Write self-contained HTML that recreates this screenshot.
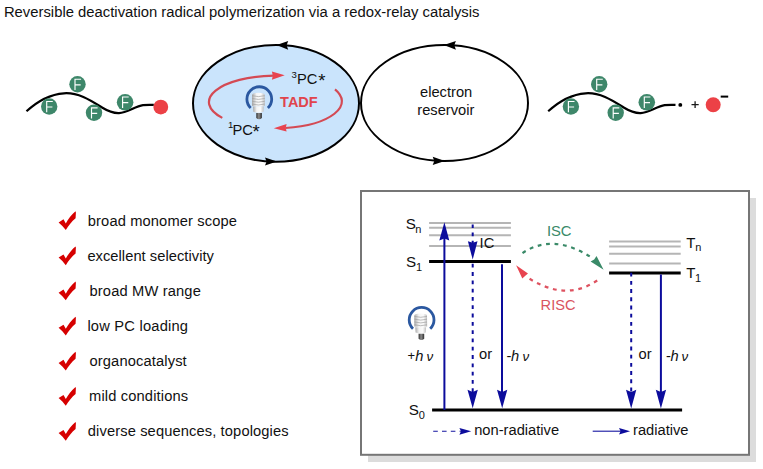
<!DOCTYPE html>
<html><head><meta charset="utf-8">
<style>
html,body{margin:0;padding:0;background:#fff;width:763px;height:469px;overflow:hidden}
svg{display:block}
text{font-family:"Liberation Sans",sans-serif;font-size:14.7px;fill:#111}
</style></head><body>
<svg width="763" height="469" viewBox="0 0 763 469">
<defs>
  <linearGradient id="bg1" x1="0" x2="1" y1="0" y2="0">
    <stop offset="0" stop-color="#a9a9a9"/><stop offset="0.35" stop-color="#f4f4f4"/><stop offset="0.7" stop-color="#fbfbfb"/><stop offset="1" stop-color="#bdbdbd"/>
  </linearGradient>
  <linearGradient id="bg2" x1="0" x2="1" y1="0" y2="0">
    <stop offset="0" stop-color="#2e2e2e"/><stop offset="0.45" stop-color="#8c8c8c"/><stop offset="1" stop-color="#2e2e2e"/>
  </linearGradient>
  <g id="bulb">
    <path d="M-8.6,9.0 A12.4,12.4 0 1 1 8.6,9.0" fill="none" stroke="#2b58a0" stroke-width="2.8"/>
    <path d="M-7.3,-4 Q-7.3,-6.2 -1,-6.3 Q5.4,-6.2 5.4,-4 L5.6,6.8 Q-0.9,8.2 -7.3,6.8 Z" fill="url(#bg1)"/>
    <g stroke="#a0a0a0" stroke-width="0.8" fill="none" opacity="0.85">
      <path d="M-7.2,-3.4 Q-0.9,-1.6 5.4,-3.4"/>
      <path d="M-7.2,-0.6 Q-0.9,1.2 5.4,-0.6"/>
      <path d="M-7.2,2.2 Q-0.9,4 5.4,2.2"/>
      <path d="M-7.2,5 Q-0.9,6.8 5.4,5"/>
    </g>
    <path d="M-6.3,7.4 L4.5,7.4 L4.2,12.6 Q-0.9,14.6 -6,12.6 Z" fill="url(#bg1)"/>
    <path d="M-3,14 L2.6,14 L2.6,19 Q-0.2,21.4 -3,19 Z" fill="url(#bg2)"/>
  </g>
  <path id="chk" d="M58.6,222.4 L63.5,219.3 L65.8,223.4 C68,219.4 71.5,214.5 75.5,211.3 L75.9,212.4 L75.6,218.3 C71.6,221.6 68.6,225.6 65.8,230.1 C63.6,227.2 61.2,224.6 58.6,222.4 Z" fill="#d60000"/>
  <g id="chain">
    <path d="M26.5,111.3 C38,100.6 50,94.3 64,93.3 C78,92.3 90,100 102,107.5 C109,111.8 114,113.3 119,113.1 C127,112.8 135,106.5 143,105.2 C147,104.6 150.5,104.8 153.8,104.9" fill="none" stroke="#000" stroke-width="2.2"/>
    <g fill="#3e876a">
      <circle cx="49.2" cy="106.5" r="8.2"/>
      <circle cx="77.5" cy="84.3" r="8.2"/>
      <circle cx="94" cy="112.8" r="8.2"/>
      <circle cx="125.1" cy="102.3" r="8.3"/>
    </g>
    <path d="M46.7,112.3 V101.5 H52.8 M46.7,107.0 H52.4 M75.0,90.1 V79.2 H81.1 M75.0,84.8 H80.7 M91.5,118.6 V107.8 H97.6 M91.5,113.3 H97.2 M122.6,107.9 V97.0 H128.7 M122.6,102.6 H128.3" fill="none" stroke="#fff" stroke-width="1.15"/>
  </g>
</defs>

<!-- title -->
<text x="3.9" y="17" style="font-size:14.84px">Reversible deactivation radical polymerization via a redox-relay catalysis</text>

<!-- left chain -->
<use href="#chain"/>
<circle cx="160.8" cy="107.1" r="7.4" fill="#ec4146"/>

<!-- right chain -->
<use href="#chain" transform="translate(521.7,0)"/>
<circle cx="680.3" cy="104.9" r="1.95" fill="#000"/>
<path d="M691.5,104.6 H698.7 M695.1,101.2 V107.9" stroke="#1a1a1a" stroke-width="1.3"/>
<circle cx="713.2" cy="104.8" r="7.5" fill="#ec4146"/>
<rect x="720.7" y="95.6" width="7.5" height="2" fill="#000"/>

<!-- ellipses -->
<ellipse cx="276" cy="103.35" rx="83" ry="58.35" fill="#cae4fc" stroke="#000" stroke-width="2"/>
<ellipse cx="444.5" cy="103" rx="83.5" ry="58" fill="none" stroke="#000" stroke-width="2"/>
<!-- ellipse arrowheads -->
<g fill="#000">
  <path d="M276.6,45.1 L288.2,41 L286.6,45.2 L288.2,49.7 Z"/>
  <path d="M276.9,161.6 L265,157.4 L266.6,161.6 L265,165.5 Z"/>
  <path d="M443.9,44.9 L455.9,41 L454.3,45 L455.9,49.7 Z"/>
  <path d="M444.8,161 L432.7,156.8 L434.3,161 L432.7,164.9 Z"/>
</g>
<text x="420" y="97.2" style="font-size:14.7px">electron</text>
<text x="417.3" y="114.9" style="font-size:14.7px">reservoir</text>

<!-- red TADF arcs -->
<path d="M222.3,117.9 A67.5,26.5 0 0 1 274,75.6" fill="none" stroke="#d44a54" stroke-width="2.2"/>
<path d="M284.7,75.3 L271.9,71.5 L272.8,75.7 L271.9,79.8 Z" fill="#e8434f"/>
<path d="M335,89.4 A66.9,27 0 0 1 285.5,128" fill="none" stroke="#d44a54" stroke-width="2.2"/>
<path d="M273.8,128.3 L286.6,124 L285.8,127.9 L286.6,131.5 Z" fill="#e8434f"/>

<use href="#bulb" transform="translate(259.3,99.1)"/>
<text x="280.1" y="107" textLength="37.6" lengthAdjust="spacingAndGlyphs" style="font-size:15px;font-weight:bold;fill:#e0454d">TADF</text>
<text x="291.5" y="77.8" style="font-size:9.6px">3</text>
<text x="296.9" y="83.9">PC</text><text x="318.2" y="86.5" style="font-size:18.5px">*</text>
<text x="228" y="127.7" style="font-size:9.6px">1</text>
<text x="232.5" y="135">PC</text><text x="252.6" y="137.6" style="font-size:18.5px">*</text>

<!-- check list -->
<g>
  <use href="#chk"/>
  <use href="#chk" transform="translate(0,35.12)"/>
  <use href="#chk" transform="translate(0,70.24)"/>
  <use href="#chk" transform="translate(0,105.36)"/>
  <use href="#chk" transform="translate(0,140.48)"/>
  <use href="#chk" transform="translate(0,175.6)"/>
  <use href="#chk" transform="translate(0,210.72)"/>
</g>
<text x="87.8" y="225.6" textLength="149.1" lengthAdjust="spacing">broad monomer scope</text>
<text x="87.4" y="260.7" textLength="126.5" lengthAdjust="spacing">excellent selectivity</text>
<text x="89.5" y="295.9" textLength="111.3" lengthAdjust="spacing">broad MW range</text>
<text x="87.4" y="330.9" textLength="100.6" lengthAdjust="spacing">low PC loading</text>
<text x="89.5" y="366.1" textLength="97.2" lengthAdjust="spacing">organocatalyst</text>
<text x="89" y="401.3" textLength="99.2" lengthAdjust="spacing">mild conditions</text>
<text x="87.8" y="436.3" textLength="200.8" lengthAdjust="spacing">diverse sequences, topologies</text>

<!-- Jablonski box -->
<rect x="368" y="198" width="388" height="264" fill="#dcdcdc"/>
<rect x="361" y="191" width="388" height="263.8" fill="#fff" stroke="#767676" stroke-width="2"/>

<!-- gray levels -->
<g stroke="#b5b5b5" stroke-width="2">
  <path d="M429.1,223 H510.9 M429.1,227.8 H510.9 M429.1,235.2 H510.9 M429.1,246 H510.9"/>
  <path d="M609.1,241.5 H680.7 M609.1,246.4 H680.7 M609.1,253.7 H680.7 M609.1,263.5 H680.7"/>
</g>
<g stroke="#000" stroke-width="3">
  <path d="M429.1,261.4 H510.9"/>
  <path d="M609.1,273 H680.7"/>
  <path d="M432.1,410 H682.1"/>
</g>

<!-- arrows -->
<g stroke="#0c0c9c" stroke-width="2" fill="none">
  <path d="M444.4,410 V238"/>
  <path d="M502,264.2 V392"/>
  <path d="M660.9,274.5 V392"/>
  <path d="M472.7,224.4 V243.2" stroke-dasharray="3.7 4.5"/>
  <path d="M472.7,263.8 V392" stroke-dasharray="3.8 4.5"/>
  <path d="M631.2,272.7 V392" stroke-dasharray="3.9 4.3"/>
</g>
<g fill="#0c0c9c">
  <path d="M444.4,222.3 L449.3,240.6 L444.4,238.4 L439.3,240.6 Z"/>
  <path d="M472.7,259.6 L477.5,241.3 L472.7,242.7 L467.9,241.3 Z"/>
  <path d="M472.7,408.3 L477.8,389.8 L472.7,392 L467.5,389.8 Z"/>
  <path d="M502.2,408.3 L507.3,389.8 L502.2,392 L497,389.8 Z"/>
  <path d="M631.2,408.4 L636.3,389.8 L631.2,392 L626,389.8 Z"/>
  <path d="M660.9,408.4 L666.1,389.8 L660.9,392 L655.8,389.8 Z"/>
</g>

<!-- ISC / RISC -->
<path d="M593.8,259 Q553.85,232 522.5,253.1" fill="none" stroke="#3a8a68" stroke-width="2.2" stroke-dasharray="3.8 4.7" stroke-dashoffset="3.8"/>
<path d="M603.6,269.8 L596.5,255.9 L594.2,259.4 L590.6,261.4 Z" fill="#3a8a68"/>
<path d="M525.5,276.1 Q564.65,302.7 597.2,280.5" fill="none" stroke="#de5260" stroke-width="2.2" stroke-dasharray="3.8 4.75" stroke-dashoffset="3.8"/>
<path d="M516.1,265.2 L522.3,278.6 L525.3,275.8 L528,273.4 Z" fill="#e84450"/>
<text x="546.9" y="235.8" textLength="24.6" lengthAdjust="spacingAndGlyphs" style="fill:#3a8a68;font-size:15.3px">ISC</text>
<text x="540.6" y="310.3" textLength="34.9" lengthAdjust="spacingAndGlyphs" style="fill:#d9545f;font-size:15.3px">RISC</text>

<!-- labels -->
<text x="405.8" y="229" style="font-size:15.2px">S</text><text x="415.3" y="232.6" style="font-size:11px">n</text>
<text x="405.9" y="266.8" style="font-size:15.2px">S</text><text x="416" y="270.6" style="font-size:11px">1</text>
<text x="408.8" y="415" style="font-size:15.2px">S</text><text x="418.7" y="418.6" style="font-size:11px">0</text>
<text x="686.3" y="247.6" style="font-size:15px">T</text><text x="695.2" y="251.2" style="font-size:11px">n</text>
<text x="686.3" y="278" style="font-size:15px">T</text><text x="695" y="281.8" style="font-size:11px">1</text>
<text x="479.6" y="248.3">IC</text>

<use href="#bulb" transform="translate(421.6,319.8)"/>
<text x="407.45" y="360.1" style="font-size:13px">+</text><text x="415.2" y="360.6" style="font-style:italic">h</text><text x="426.4" y="361.1" style="font-style:italic;font-size:13.4px">ν</text>
<text x="479" y="359.3">or</text>
<text x="506.5" y="360.7">-</text><text x="511" y="360.7" style="font-style:italic">h</text><text x="522.4" y="361.2" style="font-style:italic;font-size:13.4px">ν</text>
<text x="638.5" y="359.3">or</text>
<text x="666" y="360.7">-</text><text x="670.5" y="360.7" style="font-style:italic">h</text><text x="681.4" y="361.2" style="font-style:italic;font-size:13.4px">ν</text>

<!-- legend -->
<path d="M433.2,431.3 H461" stroke="#1414a0" stroke-width="1.1" stroke-dasharray="4.6 4.2"/>
<path d="M471.2,431.3 L459.4,427.9 L461,431.3 L459.4,434.7 Z" fill="#0c0c9c"/>
<text x="474.2" y="435">non-radiative</text>
<path d="M592.7,431.2 H621" stroke="#1414a0" stroke-width="1.1"/>
<path d="M630.1,431.2 L619,427.9 L620.6,431.2 L619,434.5 Z" fill="#0c0c9c"/>
<text x="633" y="434.8">radiative</text>
</svg>
</body></html>
